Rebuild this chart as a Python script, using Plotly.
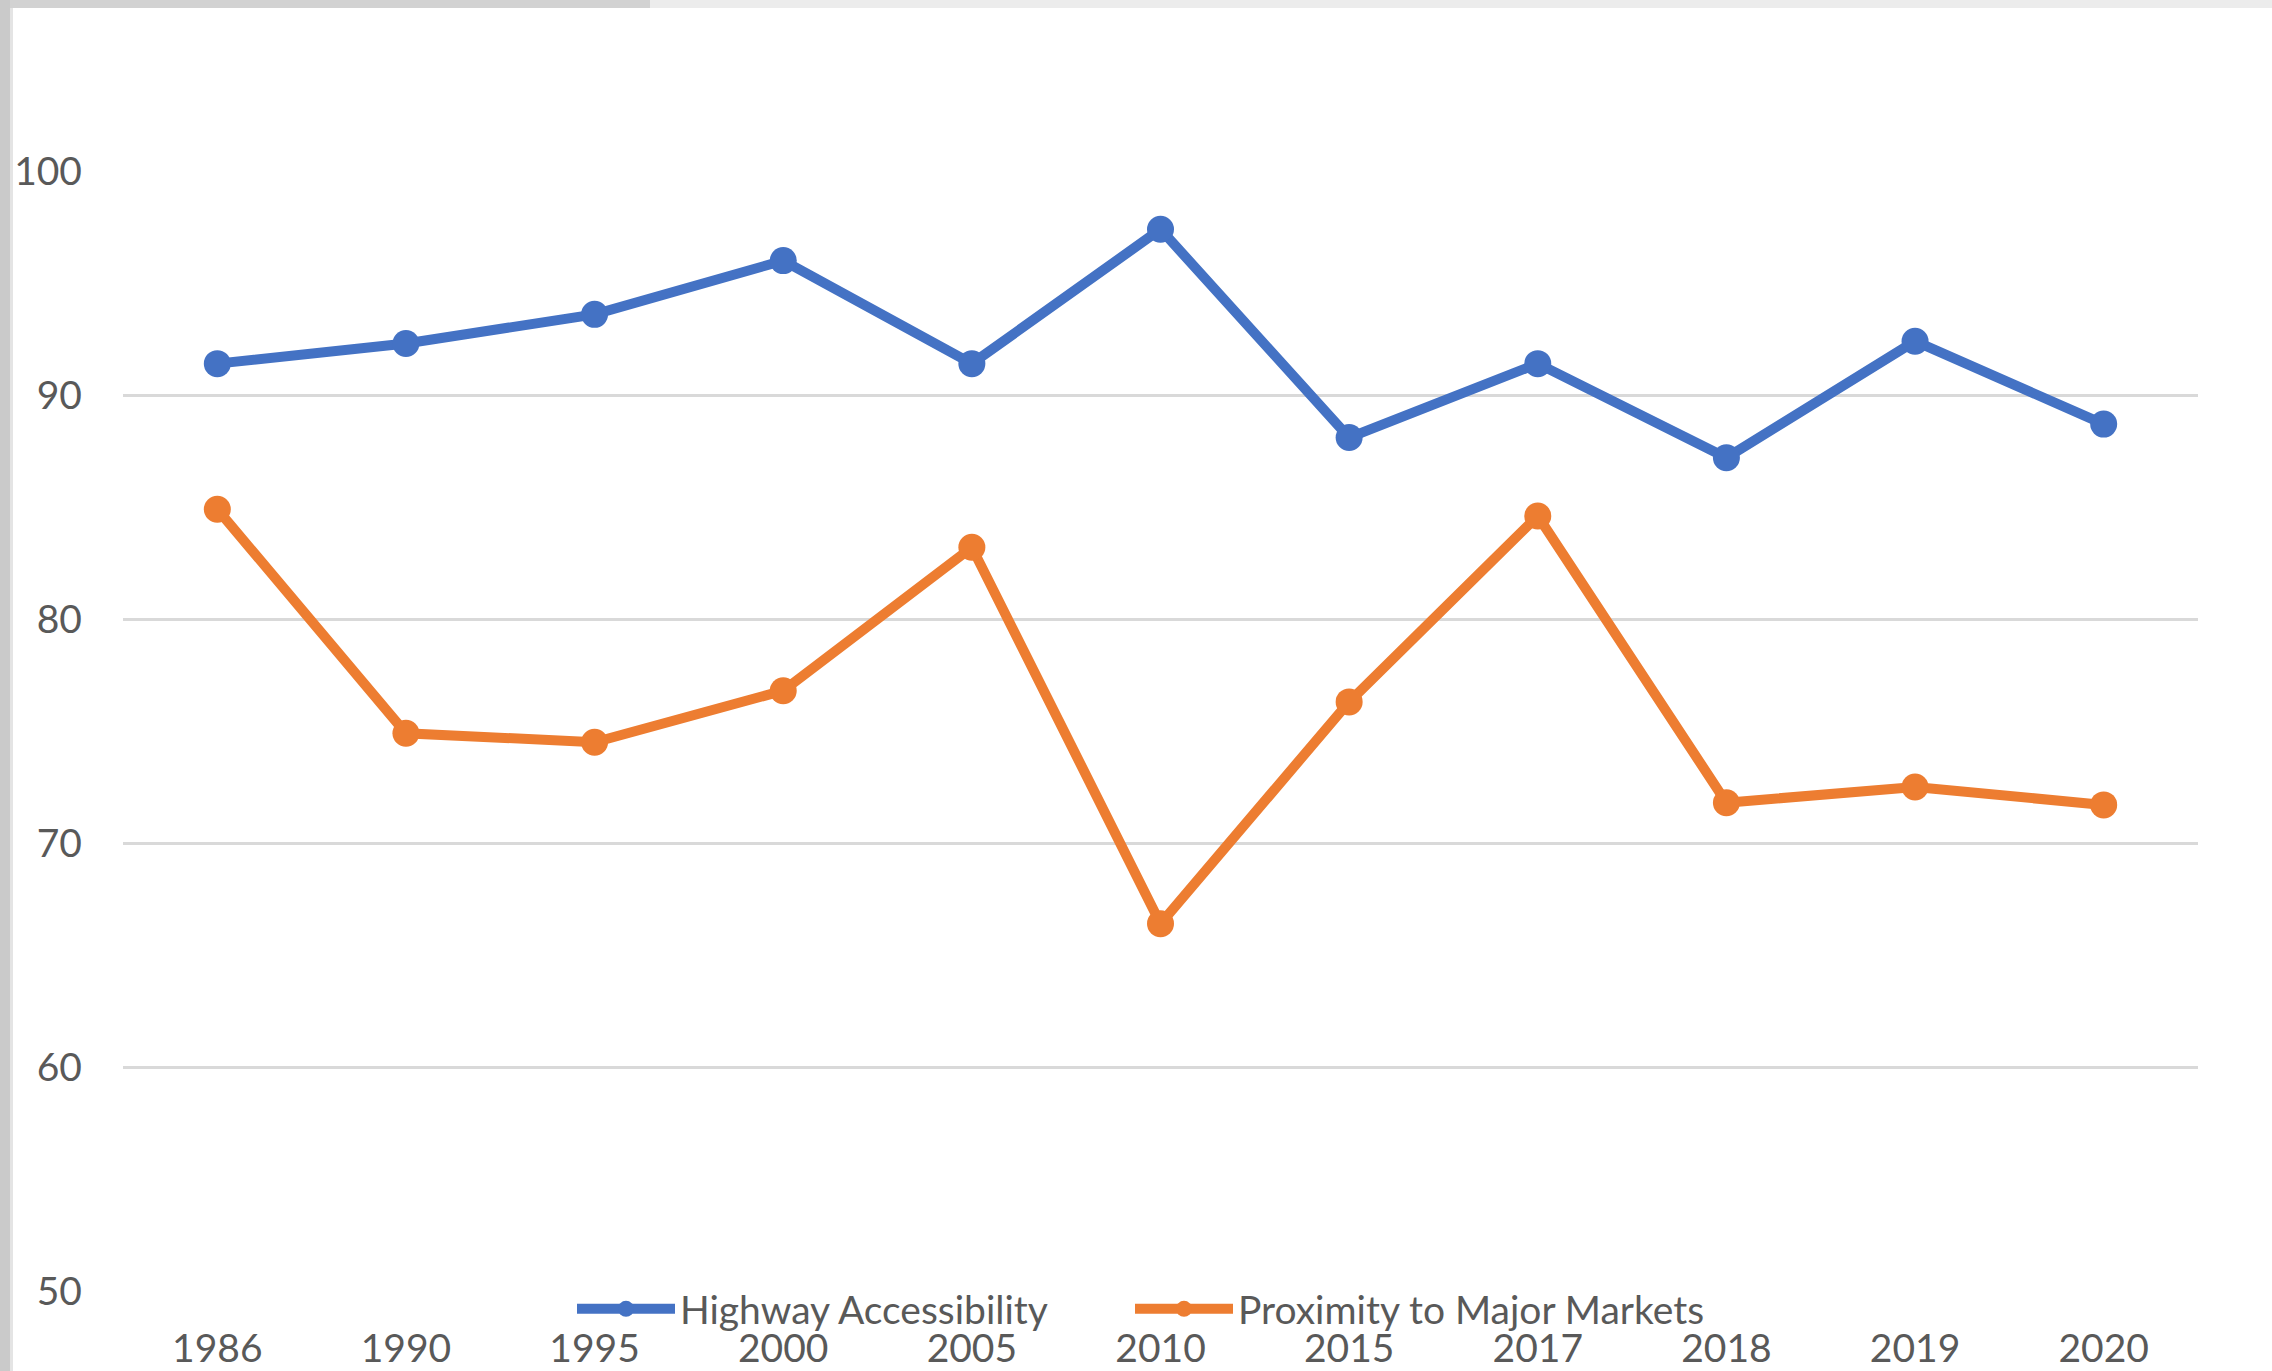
import plotly.graph_objects as go

years = ["1986", "1990", "1995", "2000", "2005", "2010", "2015", "2017", "2018", "2019", "2020"]
highway = [91.4, 92.3, 93.6, 96.0, 91.4, 97.4, 88.1, 91.4, 87.2, 92.4, 88.7]
proximity = [84.9, 74.9, 74.5, 76.8, 83.2, 66.4, 76.3, 84.6, 71.8, 72.5, 71.7]
y_ticks = [50, 60, 70, 80, 90, 100]

BLUE = "#4472C4"
ORANGE = "#ED7D31"
TXT = "#595959"
FONT = "Lato"

W, H = 2272, 1371
ML, MR, MT, MB = 123, 74, 171, 80
PW = W - ML - MR
PH = H - MT - MB

def px_x(p):
    return (p - ML) / PW

def px_y(p):
    return (H - MB - p) / PH

fig = go.Figure()
fig.add_trace(go.Scatter(
    x=years, y=highway, name="Highway Accessibility", mode="lines+markers",
    line=dict(color=BLUE, width=10), marker=dict(color=BLUE, size=27),
    legend="legend",
))
fig.add_trace(go.Scatter(
    x=years, y=proximity, name="Proximity to Major Markets", mode="lines+markers",
    line=dict(color=ORANGE, width=10), marker=dict(color=ORANGE, size=27),
    legend="legend2",
))

# gray frame of the screenshot
shapes = [
    dict(type="rect", xref="paper", yref="paper", x0=px_x(0), x1=px_x(W), y0=px_y(8), y1=px_y(0),
         fillcolor="#ececec", line=dict(width=0), layer="above"),
    dict(type="rect", xref="paper", yref="paper", x0=px_x(0), x1=px_x(650), y0=px_y(8), y1=px_y(0),
         fillcolor="#d2d2d2", line=dict(width=0), layer="above"),
    dict(type="rect", xref="paper", yref="paper", x0=px_x(0), x1=px_x(10), y0=px_y(H), y1=px_y(0),
         fillcolor="#cacaca", line=dict(width=0), layer="above"),
    dict(type="rect", xref="paper", yref="paper", x0=px_x(10), x1=px_x(13), y0=px_y(H), y1=px_y(8),
         fillcolor="#e4e4e4", line=dict(width=0), layer="above"),
]

legend_common = dict(
    orientation="h", xanchor="left", yanchor="middle",
    bgcolor="rgba(0,0,0,0)", font=dict(family=FONT, color=TXT, size=39),
    itemwidth=98, itemsizing="trace",
)

fig.update_layout(
    width=W, height=H,
    margin=dict(l=ML, r=MR, t=MT, b=MB, pad=0, autoexpand=False),
    paper_bgcolor="white", plot_bgcolor="white",
    font=dict(family=FONT, color=TXT, size=39),
    showlegend=True,
    legend=dict(x=px_x(572), y=px_y(1309), **legend_common),
    legend2=dict(x=px_x(1130), y=px_y(1309), **legend_common),
    xaxis=dict(
        type="category", range=[-0.5, 10.5], showgrid=False, zeroline=False,
        showline=False, ticks="", tickfont=dict(family=FONT, color=TXT, size=39),
        ticklabelstandoff=31, fixedrange=True, automargin=False,
    ),
    yaxis=dict(
        range=[50, 100], tickvals=y_ticks, showgrid=True, gridcolor="#d9d9d9", gridwidth=3,
        zeroline=False, showline=False, ticks="", tickfont=dict(family=FONT, color=TXT, size=39),
        ticklabelstandoff=40, fixedrange=True, automargin=False,
    ),
    shapes=shapes,
)

post = "document.body.style.margin='0';document.body.style.padding='0';"
fig.write_html("out.html", config={"displayModeBar": False}, post_script=post)
